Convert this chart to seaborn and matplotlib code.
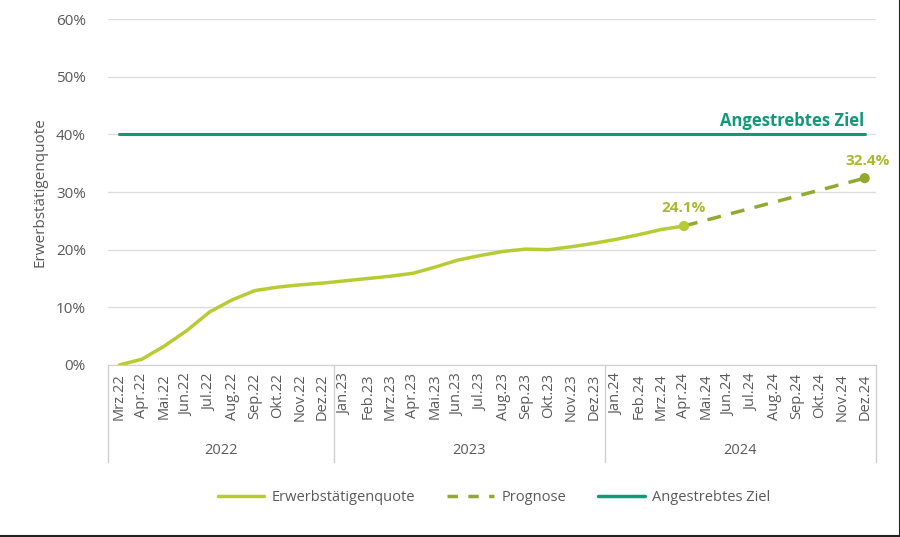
import pandas as pd
import seaborn as sns
import matplotlib.pyplot as plt
from matplotlib.lines import Line2D
from matplotlib.ticker import PercentFormatter

# monatslabels
months = ["Mrz.22", "Apr.22", "Mai.22", "Jun.22", "Jul.22", "Aug.22", "Sep.22", "Okt.22", "Nov.22", "Dez.22",
          "Jan.23", "Feb.23", "Mrz.23", "Apr.23", "Mai.23", "Jun.23", "Jul.23", "Aug.23", "Sep.23", "Okt.23",
          "Nov.23", "Dez.23",
          "Jan.24", "Feb.24", "Mrz.24", "Apr.24", "Mai.24", "Jun.24", "Jul.24", "Aug.24", "Sep.24", "Okt.24",
          "Nov.24", "Dez.24"]
years = ["2022", "2023", "2024"]
year_counts = [10, 12, 12]

# erwerbstätigenquote bis Apr.24
quote = [0.0, 1.0, 3.3, 6.0, 9.2, 11.3, 12.9, 13.5, 13.9, 14.2,
         14.6, 15.0, 15.4, 15.9, 17.0, 18.2, 19.0, 19.7, 20.1, 20.0,
         20.5, 21.1, 21.8, 22.6, 23.5, 24.1]
prognose_months = ["Apr.24", "Dez.24"]
prognose = [24.1, 32.4]
ziel = 40.0

c_line = "#b7cc34"
c_prog = "#8faa2e"
c_ziel = "#14987a"
c_text = "#595959"

df = pd.DataFrame({"x": range(len(quote)), "quote": [q / 100 for q in quote]})
df_prog = pd.DataFrame({"x": [months.index(m) for m in prognose_months],
                        "quote": [p / 100 for p in prognose]})
df_ziel = pd.DataFrame({"x": [0, len(months) - 1], "quote": [ziel / 100] * 2})

sns.set_style("white")
plt.rcParams["font.family"] = ["Open Sans", "DejaVu Sans"]

fig = plt.figure(figsize=(9, 5.37), dpi=100)
ax = fig.add_axes([0.12, 0.3203, 0.8533, 0.6443])

sns.lineplot(data=df_ziel, x="x", y="quote", ax=ax, color=c_ziel, linewidth=2.2)
sns.lineplot(data=df, x="x", y="quote", ax=ax, color=c_line, linewidth=2.5)
sns.lineplot(data=df_prog, x="x", y="quote", ax=ax, color=c_prog, linewidth=2.5,
             linestyle=(0, (4, 3)))
ax.scatter(df_prog["x"], df_prog["quote"], color=[c_line, c_prog], s=40, zorder=5)

ax.set_xlim(-0.5, len(months) - 0.5)
ax.set_ylim(0, 0.6)
ax.set_yticks([i / 10 for i in range(7)])
ax.yaxis.set_major_formatter(PercentFormatter(1.0, decimals=0))
ax.grid(axis="y", color="#dddddd", linewidth=1)
ax.set_axisbelow(True)
for s in ["top", "right", "left"]:
    ax.spines[s].set_visible(False)
ax.spines["bottom"].set_color("#d0d0d0")

ax.set_xticks(range(len(months)))
ax.set_xticklabels(months, rotation=90, fontsize=10.5, color=c_text)
ax.tick_params(axis="x", length=0, pad=6)
ax.tick_params(axis="y", length=0, labelsize=11, labelcolor=c_text, pad=16)
ax.set_xlabel("")
ax.set_ylabel("Erwerbstätigenquote", fontsize=11, color=c_text, labelpad=6)

# jahres-ebene der x-achse
trans = ax.get_xaxis_transform()
start = -0.5
ax.plot([start, start], [0, -0.28], transform=trans, color="#d0d0d0", lw=1, clip_on=False)
for y, n in zip(years, year_counts):
    end = start + n
    ax.plot([end, end], [0, -0.28], transform=trans, color="#d0d0d0", lw=1, clip_on=False)
    ax.text((start + end) / 2, -0.247, y, transform=trans, ha="center", va="center",
            fontsize=10.5, color=c_text)
    start = end

# beschriftungen
ax.text(len(months) - 1, ziel / 100 + 0.008, "Angestrebtes Ziel", ha="right", va="bottom",
        fontsize=12, fontweight="bold", color=c_ziel)
ax.annotate(f"{prognose[0]}%", (df_prog["x"][0], df_prog["quote"][0]), xytext=(0, 8),
            textcoords="offset points", ha="center", va="bottom", fontsize=11,
            fontweight="bold", color="#a5bb2c")
ax.annotate(f"{prognose[1]}%", (df_prog["x"][1], df_prog["quote"][1]), xytext=(2, 7),
            textcoords="offset points", ha="center", va="bottom", fontsize=11,
            fontweight="bold", color="#a5bb2c")

handles = [Line2D([], [], color=c_line, lw=2.5),
           Line2D([], [], color=c_prog, lw=2.5, linestyle=(0, (3, 3))),
           Line2D([], [], color=c_ziel, lw=2.5)]
fig.legend(handles, ["Erwerbstätigenquote", "Prognose", "Angestrebtes Ziel"], ncol=3,
           loc="center", bbox_to_anchor=(0.549, 0.074), frameon=False, fontsize=10.5,
           labelcolor=c_text, handlelength=3.2, columnspacing=2.2, handletextpad=0.5)

# dunkler rand rechts/unten wie im screenshot
fig.add_artist(Line2D([0, 1, 1], [0.001, 0.001, 1], transform=fig.transFigure,
                      color="#222222", lw=1.5))

fig.savefig("out.png", dpi=100)
